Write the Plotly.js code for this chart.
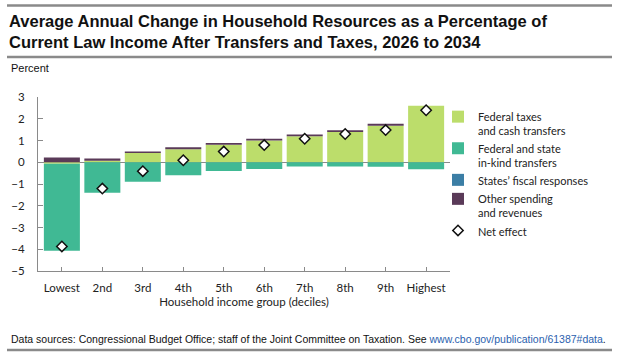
<!DOCTYPE html>
<html>
<head>
<meta charset="utf-8">
<script src="https://cdn.plot.ly/plotly-3.0.1.min.js"></script>
<style>html,body{margin:0;padding:0;background:#fff;}#chart{width:624px;height:353px;}</style>
</head>
<body>
<div id="chart"></div>
<script>
// ---- data ----
const categories = ['Lowest','2nd','3rd','4th','5th','6th','7th','8th','9th','Highest'];
const federalTaxes = [-0.07, 0.07, 0.42, 0.60, 0.80, 1.00, 1.20, 1.39, 1.68, 2.60];
const inKindTransfers = [-4.00, -1.40, -0.90, -0.60, -0.40, -0.31, -0.20, -0.20, -0.21, -0.32];
const statesResponses = [0, 0, 0, 0, 0, 0, 0, 0, 0, 0];
const otherSpending = [0.22, 0.10, 0.07, 0.09, 0.08, 0.08, 0.08, 0.08, 0.09, 0.00];
const netEffect = [-3.87, -1.21, -0.41, 0.09, 0.49, 0.79, 1.08, 1.30, 1.48, 2.39];
const yTicks = [-5, -4, -3, -2, -1, 0, 1, 2, 3];
const yTickText = ['\u22125', '\u22124', '\u22123', '\u22122', '\u22121', '0', '1', '2', '3'];

const legendFont = {family: 'Lato, sans-serif', size: 11, color: '#222'};

const barCommon = {type: 'bar', x: categories, hoverinfo: 'skip'};
const traces = [
  Object.assign({}, barCommon, {name: 'Federal taxes<br>and cash transfers', y: federalTaxes, marker: {color: '#bcdd6b'}}),
  Object.assign({}, barCommon, {name: 'Federal and state<br>in-kind transfers', y: inKindTransfers, marker: {color: '#40b994'}}),
  Object.assign({}, barCommon, {name: 'States\u2019 fiscal responses', y: statesResponses, marker: {color: '#3b7ea5'}}),
  Object.assign({}, barCommon, {name: 'Other spending<br>and revenues', y: otherSpending, marker: {color: '#5a3a58'}}),
  {type: 'scatter', mode: 'markers', name: 'Net effect', x: categories, y: netEffect,
   marker: {symbol: 'diamond', size: 8, color: '#ffffff', line: {color: '#111', width: 1.5}}, hoverinfo: 'skip'}
];

// plot area: x 38..450, y 97..271
const L = 38, R = 450, T = 97, B = 271;
const px = v => (v - L) / (R - L);
const py = v => (B - v) / (B - T);

const layout = {
  width: 624, height: 353,
  margin: {l: L, r: 624 - R, t: T, b: 353 - B, pad: 0},
  paper_bgcolor: '#fff', plot_bgcolor: '#fff',
  barmode: 'relative', bargap: 0.11,
  showlegend: true,
  title: {
    text: '<b>Average Annual Change in Household Resources as a Percentage of<br>Current Law Income After Transfers and Taxes, 2026 to 2034</b>',
    font: {family: 'Liberation Sans, Arial, sans-serif', size: 16.5, color: '#111'},
    xref: 'container', yref: 'container', x: 9/624, xanchor: 'left', y: 1 - 27/353, yanchor: 'top'
  },
  xaxis: {
    type: 'category', range: [-0.59, 9.59],
    showline: true, linecolor: '#8a8a8a', linewidth: 1,
    ticks: 'inside', ticklen: 4, tickcolor: '#8a8a8a',
    tickfont: {family: 'Lato, sans-serif', size: 11.5, color: '#222'},
    ticklabelstandoff: 6,
    showgrid: false, zeroline: false,
    title: {text: 'Household income group (deciles)', font: {family: 'Lato, sans-serif', size: 11.5, color: '#222'}, standoff: 5}
  },
  yaxis: {
    range: [-5, 3], tickvals: yTicks, ticktext: yTickText,
    showline: true, linecolor: '#8a8a8a', linewidth: 1,
    ticks: 'inside', ticklen: 5, tickcolor: '#8a8a8a',
    tickfont: {family: 'Lato, sans-serif', size: 11.5, color: '#222'},
    ticklabelstandoff: 10,
    showgrid: false, zeroline: true, zerolinecolor: '#8a8a8a', zerolinewidth: 1
  },
  legend: {
    x: px(438), y: py(103), xanchor: 'left', yanchor: 'top',
    font: legendFont, bgcolor: 'rgba(0,0,0,0)', valign: 'top',
    traceorder: 'normal', itemwidth: 30, tracegroupgap: 0
  },
  shapes: [
    {type: 'line', xref: 'paper', yref: 'paper', x0: px(7), x1: px(612), y0: py(5.5), y1: py(5.5), line: {color: '#8a8a8a', width: 2.5}},
    {type: 'line', xref: 'paper', yref: 'paper', x0: px(7), x1: px(612), y0: py(57), y1: py(57), line: {color: '#8a8a8a', width: 2.5}},
    {type: 'line', xref: 'paper', yref: 'paper', x0: px(7), x1: px(612), y0: py(350), y1: py(350), line: {color: '#8a8a8a', width: 2.5}}
  ],
  annotations: [
    {text: 'Percent', xref: 'paper', yref: 'paper', x: px(9), y: py(68), xanchor: 'left', yanchor: 'middle', showarrow: false,
     font: {family: 'Liberation Sans, Arial, sans-serif', size: 11, color: '#111'}},
    {text: 'Data sources: Congressional Budget Office; staff of the Joint Committee on Taxation. See <span style="color:#2b5fae">www.cbo.gov/publication/61387#data</span>.',
     xref: 'paper', yref: 'paper', x: px(9), y: py(339), xanchor: 'left', yanchor: 'middle', showarrow: false,
     font: {family: 'Liberation Sans, Arial, sans-serif', size: 10.5, color: '#111'}}
  ]
};

Plotly.newPlot('chart', traces, layout, {staticPlot: true, displayModeBar: false});
</script>
</body>
</html>
